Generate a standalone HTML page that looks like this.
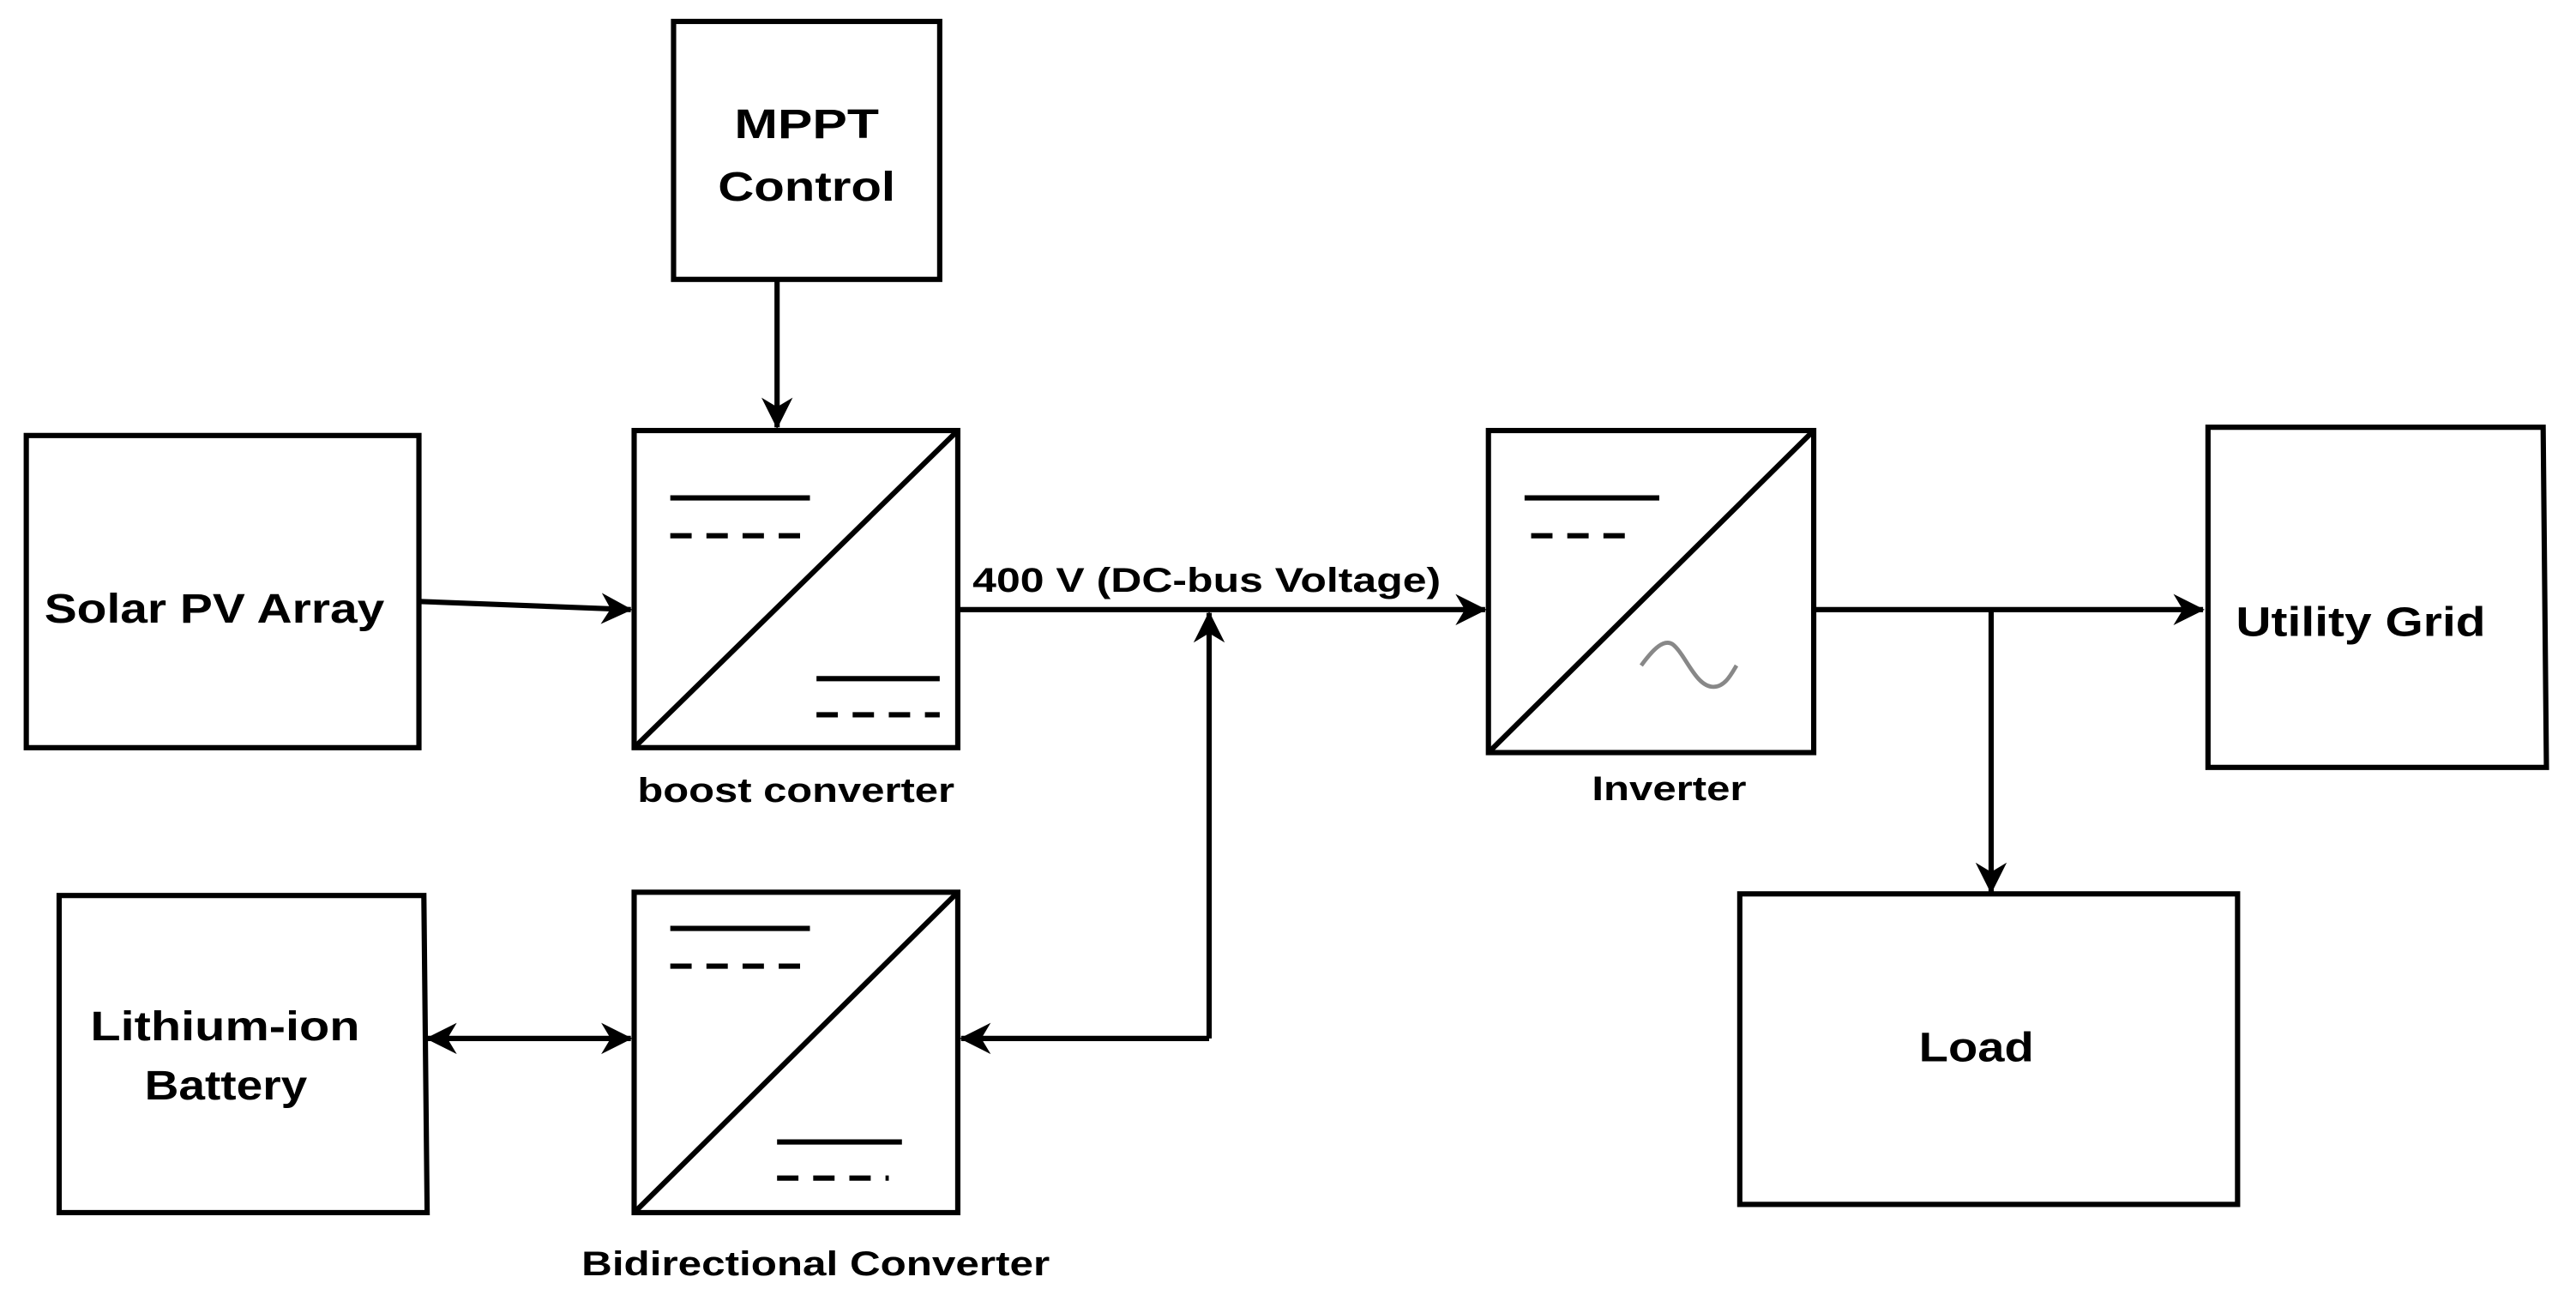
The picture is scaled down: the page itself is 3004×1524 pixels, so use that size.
<!DOCTYPE html>
<html><head><meta charset="utf-8"><style>html,body{margin:0;padding:0;background:#fff}svg{display:block}</style></head>
<body>
<svg width="3004" height="1524" viewBox="0 0 1568 795.4" xmlns="http://www.w3.org/2000/svg">
<defs>
<marker id="a" viewBox="0 0 20 20" refX="19" refY="10" markerWidth="19" markerHeight="21" markerUnits="userSpaceOnUse" orient="auto-start-reverse">
<path d="M0,0 L20,10 L0,20 L6,10 Z" fill="#000"/>
</marker>
</defs>
<rect width="1568" height="795.4" fill="#fff"/>
<g fill="none" stroke="#000" stroke-width="3.2">
<rect x="410" y="13" width="162" height="157"/>
<path d="M16,265 L255,265 L255,455 L16,455 Z"/>
<rect x="386" y="262" width="197" height="193"/>
<path d="M386,455 L583,262"/>
<rect x="906" y="262" width="198" height="196"/>
<path d="M906,458 L1104,262"/>
<path d="M1344,260 L1548,260 L1550,467 L1344,467 Z"/>
<rect x="1059" y="544" width="303" height="189"/>
<path d="M36,545 L258,545 L260,738 L36,738 Z"/>
<rect x="386" y="543" width="197" height="195"/>
<path d="M386,738 L583,543"/>
<path d="M408,303 H493 M497,413 H572 M408,565 H493 M473,695 H549 M928,303 H1010"/>
<path d="M408,326 H493 M497,435 H572 M408,588 H493 M473,717 H541 M932,326 H998" stroke-dasharray="13,9"/>
<path d="M473,170 V260" marker-end="url(#a)"/>
<path d="M255,366 L384,371" marker-end="url(#a)"/>
<path d="M583,371 H904" marker-end="url(#a)"/>
<path d="M736,632 V373" marker-end="url(#a)"/>
<path d="M736,632 H585" marker-end="url(#a)"/>
<path d="M260,632 H384" marker-start="url(#a)" marker-end="url(#a)"/>
<path d="M1104,371 H1341" marker-end="url(#a)"/>
<path d="M1212,371 V543" marker-end="url(#a)"/>
</g>
<path d="M999,405 C1007,394 1013,389 1018,392 C1026,398 1032,418 1043,418 C1050,418 1054,410 1057,405" fill="none" stroke="#888" stroke-width="2.5"/>
<g font-family="Liberation Sans, sans-serif" font-weight="bold" fill="#000" font-size="25">
<text x="447" y="84" textLength="88" lengthAdjust="spacingAndGlyphs">MPPT</text>
<text x="437" y="122" textLength="108" lengthAdjust="spacingAndGlyphs">Control</text>
<text x="27" y="379" textLength="207" lengthAdjust="spacingAndGlyphs">Solar PV Array</text>
<text x="592" y="360" font-size="21" textLength="285" lengthAdjust="spacingAndGlyphs">400 V (DC-bus Voltage)</text>
<text x="388" y="488" font-size="21" textLength="193" lengthAdjust="spacingAndGlyphs">boost converter</text>
<text x="969" y="487" font-size="21" textLength="94" lengthAdjust="spacingAndGlyphs">Inverter</text>
<text x="1361" y="387" textLength="152" lengthAdjust="spacingAndGlyphs">Utility Grid</text>
<text x="1168" y="646" textLength="70" lengthAdjust="spacingAndGlyphs">Load</text>
<text x="55" y="633" textLength="164" lengthAdjust="spacingAndGlyphs">Lithium-ion</text>
<text x="88" y="669" textLength="99" lengthAdjust="spacingAndGlyphs">Battery</text>
<text x="354" y="776" font-size="21" textLength="285" lengthAdjust="spacingAndGlyphs">Bidirectional Converter</text>
</g>
</svg>
</body></html>
